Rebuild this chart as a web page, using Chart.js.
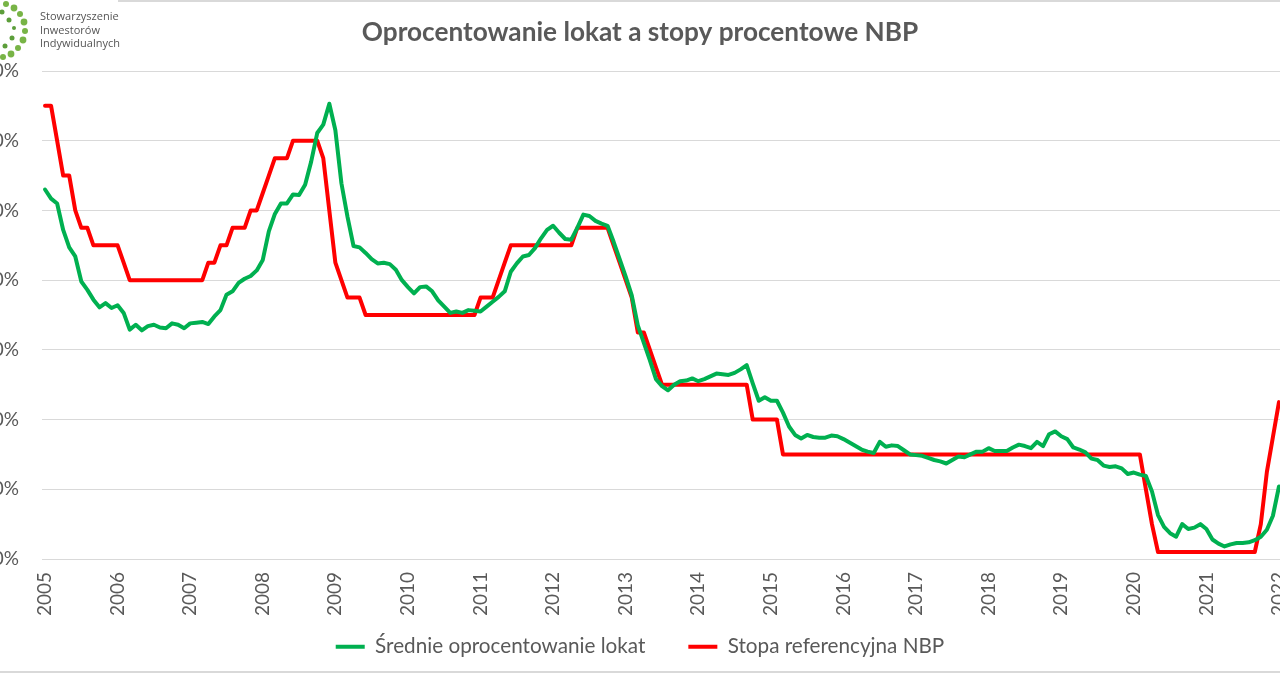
<!DOCTYPE html>
<html><head><meta charset="utf-8">
<script src="https://cdn.jsdelivr.net/npm/chart.js@4.4.1/dist/chart.umd.min.js"></script>
<style>
html,body{margin:0;padding:0;background:#fff;overflow:hidden;width:1280px;height:674px;position:relative;}
#wrap{position:absolute;left:-38px;top:0;width:1356px;height:674px;}
#logo{position:absolute;left:0;top:0;}
#logotext{position:absolute;left:40px;top:9px;font-family:"Open Sans",sans-serif;font-size:11px;line-height:13.5px;color:#555;}
.frame{position:absolute;background:#d9d9d9;height:2px;}
</style></head><body>
<div class="frame" style="left:118px;top:0;width:1162px;"></div>
<div class="frame" style="left:0;top:671px;width:1280px;"></div>
<div id="wrap"><canvas id="c"></canvas></div>
<svg id="logo" width="36" height="66" viewBox="0 0 36 66">
<g fill="#78b446">
<circle cx="6" cy="4" r="3"/><circle cx="14" cy="8" r="3.4"/><circle cx="20" cy="14" r="3"/>
<circle cx="24" cy="22" r="3.4"/><circle cx="25" cy="31" r="3"/><circle cx="23" cy="40" r="3.4"/>
<circle cx="18" cy="48" r="3"/><circle cx="11" cy="54" r="3.4"/><circle cx="3" cy="57" r="3"/>
</g>
<g fill="#5c9e3a">
<circle cx="9" cy="20" r="2.5"/><circle cx="14" cy="28" r="2"/><circle cx="12" cy="38" r="2.5"/>
<circle cx="2" cy="12" r="2.5"/><circle cx="5" cy="46" r="2.5"/>
</g>
</svg>
<div id="logotext">Stowarzyszenie<br>Inwestorów<br>Indywidualnych</div>
<script>
const years = [2005,2006,2007,2008,2009,2010,2011,2012,2013,2014,2015,2016,2017,2018,2019,2020,2021,2022];
const lastMonth = '2022-01';
const seriesNames = ['Średnie oprocentowanie lokat', 'Stopa referencyjna NBP'];
const yTicks = [0,1,2,3,4,5,6,7];

const depositRates = [
  5.30,5.17,5.10,4.72,4.47,4.34,3.98,3.86,3.72,3.61,3.67,3.60,
  3.64,3.53,3.29,3.36,3.28,3.34,3.36,3.32,3.31,3.38,3.36,3.31,
  3.38,3.39,3.40,3.37,3.48,3.57,3.79,3.84,3.96,4.02,4.06,4.14,
  4.29,4.70,4.95,5.10,5.10,5.23,5.22,5.37,5.70,6.11,6.23,6.53,
  6.15,5.39,4.91,4.49,4.47,4.39,4.30,4.24,4.25,4.23,4.15,4.00,
  3.90,3.81,3.90,3.91,3.84,3.71,3.62,3.53,3.55,3.53,3.57,3.56,
  3.55,3.62,3.69,3.76,3.84,4.12,4.24,4.34,4.36,4.46,4.60,4.72,
  4.78,4.68,4.59,4.58,4.75,4.94,4.92,4.85,4.81,4.78,4.55,4.30,
  4.05,3.78,3.35,3.10,2.85,2.58,2.48,2.42,2.50,2.55,2.56,2.59,
  2.55,2.58,2.62,2.66,2.65,2.64,2.67,2.72,2.78,2.52,2.27,2.32,
  2.27,2.27,2.10,1.90,1.78,1.73,1.78,1.75,1.74,1.74,1.77,1.76,
  1.72,1.67,1.62,1.57,1.54,1.52,1.68,1.61,1.63,1.62,1.56,1.50,
  1.49,1.48,1.45,1.42,1.40,1.37,1.42,1.47,1.46,1.50,1.54,1.54,
  1.59,1.55,1.55,1.55,1.60,1.64,1.62,1.59,1.68,1.62,1.79,1.83,
  1.76,1.72,1.60,1.57,1.53,1.44,1.42,1.34,1.32,1.33,1.30,1.22,
  1.24,1.21,1.19,0.97,0.63,0.46,0.37,0.32,0.50,0.43,0.45,0.50,
  0.43,0.28,0.22,0.18,0.21,0.23,0.23,0.24,0.27,0.32,0.42,0.62,
  1.04
];

const referenceRates = [
  6.5,6.5,6.0,5.5,5.5,5.0,4.75,4.75,4.5,4.5,4.5,4.5,
  4.5,4.25,4.0,4.0,4.0,4.0,4.0,4.0,4.0,4.0,4.0,4.0,
  4.0,4.0,4.0,4.25,4.25,4.5,4.5,4.75,4.75,4.75,5.0,5.0,
  5.25,5.5,5.75,5.75,5.75,6.0,6.0,6.0,6.0,6.0,5.75,5.0,
  4.25,4.0,3.75,3.75,3.75,3.5,3.5,3.5,3.5,3.5,3.5,3.5,
  3.5,3.5,3.5,3.5,3.5,3.5,3.5,3.5,3.5,3.5,3.5,3.5,
  3.75,3.75,3.75,4.0,4.25,4.5,4.5,4.5,4.5,4.5,4.5,4.5,
  4.5,4.5,4.5,4.5,4.75,4.75,4.75,4.75,4.75,4.75,4.5,4.25,
  4.0,3.75,3.25,3.25,3.0,2.75,2.5,2.5,2.5,2.5,2.5,2.5,
  2.5,2.5,2.5,2.5,2.5,2.5,2.5,2.5,2.5,2.0,2.0,2.0,
  2.0,2.0,1.5,1.5,1.5,1.5,1.5,1.5,1.5,1.5,1.5,1.5,
  1.5,1.5,1.5,1.5,1.5,1.5,1.5,1.5,1.5,1.5,1.5,1.5,
  1.5,1.5,1.5,1.5,1.5,1.5,1.5,1.5,1.5,1.5,1.5,1.5,
  1.5,1.5,1.5,1.5,1.5,1.5,1.5,1.5,1.5,1.5,1.5,1.5,
  1.5,1.5,1.5,1.5,1.5,1.5,1.5,1.5,1.5,1.5,1.5,1.5,
  1.5,1.5,1.0,0.5,0.1,0.1,0.1,0.1,0.1,0.1,0.1,0.1,
  0.1,0.1,0.1,0.1,0.1,0.1,0.1,0.1,0.1,0.5,1.25,1.75,
  2.25
];

const categories = [];
for (const y of years) {
  for (let m = 1; m <= 12; m++) {
    const lab = y + '-' + String(m).padStart(2, '0');
    categories.push(lab);
    if (lab === lastMonth) break;
  }
}

const FONT = 'Lato, "Open Sans", sans-serif';
const GRAY = '#595959';
const LEGEND_SIZE = 20.7, LEGEND_PAD = 43, LAYOUT_BOTTOM = 7;
const PLOT_BOTTOM = 559;
const xAxisHeight = 674 - LAYOUT_BOTTOM - (LEGEND_SIZE + LEGEND_PAD + 10) - PLOT_BOTTOM;

new Chart(document.getElementById('c'), {
  type: 'line',
  data: {
    labels: categories,
    datasets: [
      { label: seriesNames[0], data: depositRates, borderColor: '#00b050', backgroundColor: '#00b050',
        borderWidth: 4, pointRadius: 0, tension: 0, borderJoinStyle: 'round', borderCapStyle: 'round' },
      { label: seriesNames[1], data: referenceRates, borderColor: '#ff0000', backgroundColor: '#ff0000',
        borderWidth: 4, pointRadius: 0, tension: 0, borderJoinStyle: 'round', borderCapStyle: 'round' }
    ]
  },
  options: {
    responsive: true, maintainAspectRatio: false, animation: false,
    layout: { padding: { left: 36, right: 36, top: 0, bottom: LAYOUT_BOTTOM } },
    plugins: {
      title: { display: true, text: 'Oprocentowanie lokat a stopy procentowe NBP', color: GRAY,
        font: { family: FONT, size: 26.2, weight: 'bold' }, padding: { top: 17, bottom: 22.56 } },
      legend: { position: 'bottom',
        labels: { color: GRAY, font: { family: FONT, size: LEGEND_SIZE }, boxWidth: 29, boxHeight: 4, padding: LEGEND_PAD,
          generateLabels(chart) {
            const items = Chart.defaults.plugins.legend.labels.generateLabels(chart);
            items.forEach(it => { it.lineWidth = 0; });
            return items;
          } } },
      tooltip: { enabled: false }
    },
    scales: {
      x: {
        type: 'category', offset: true,
        grid: { display: false, drawTicks: false },
        border: { display: false },
        ticks: { autoSkip: false, minRotation: 90, maxRotation: 90, padding: 13, color: GRAY,
          font: { family: FONT, size: 19 },
          callback(value) { const l = this.getLabelForValue(value); return l.endsWith('-01') ? l.slice(0, 4) : ''; } },
        afterFit(scale) {
          scale.paddingLeft = 0; scale.paddingRight = 0; scale.height = xAxisHeight;
          scale._computeLabelArea = () => undefined;
        }
      },
      y: {
        min: 0, max: 7,
        afterBuildTicks(scale) { scale.ticks = yTicks.map(v => ({ value: v })); },
        grid: { color: '#d9d9d9', lineWidth: 1, drawTicks: false },
        border: { display: false },
        ticks: { padding: 23, color: GRAY, font: { family: FONT, size: 19 },
          callback(v) { return v.toFixed(2).replace('.', ',') + '%'; } },
        afterFit(scale) { scale.width = 44; }
      }
    }
  }
});
</script>
</body></html>
